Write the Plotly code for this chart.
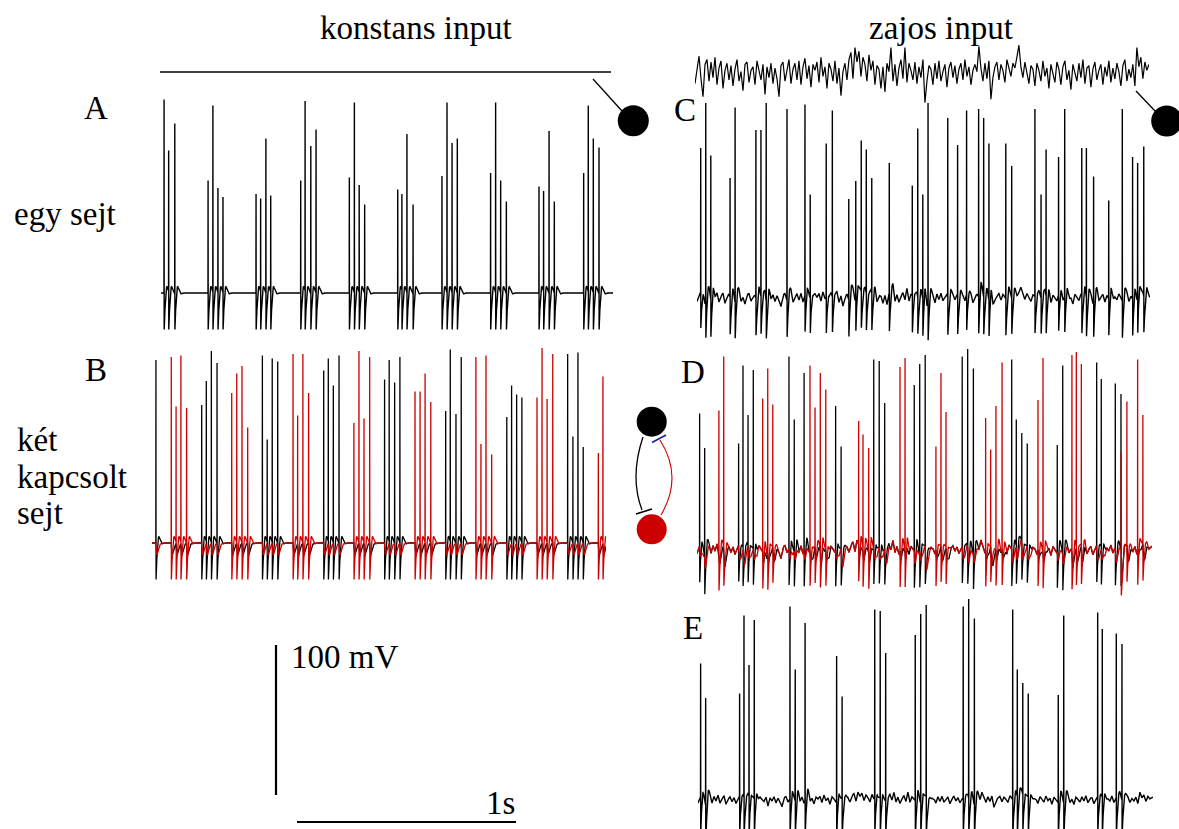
import numpy as np
import plotly.graph_objects as go

# ---------------- data ----------------
# spike times (ms from the start of each trace) and spike peak potentials (mV)
A_spike_ms = [14, 35, 63, 215, 237, 260, 283, 434, 455, 479, 501, 638, 658, 684, 708,
              860, 883, 905, 930, 1081, 1100, 1123, 1151, 1283, 1306, 1329, 1353,
              1505, 1528, 1551, 1577, 1726, 1747, 1772, 1796, 1930, 1951, 1974, 2000]
A_peak_mV = [69, 35, 53, 15, 65, 10, 4, 6, 3, 43, 5, 15, 68, 38, 49,
             17, 67, 12, -1, 9, 6, 46, -1, 18, 67, 40, 43,
             20, 67, 15, 1, 11, 8, 48, 1, 20, 65, 43, 37]

B_black_ms = [18, 227, 248, 271, 297, 504, 526, 549, 574, 784, 805, 828, 854,
              1062, 1083, 1108, 1132, 1341, 1362, 1388, 1412, 1620, 1642, 1665, 1689,
              1898, 1922, 1945, 1969]
B_black_mV = [62, 32, 48, 68, 60, 65, 9, 63, 61, 55, 63, 45, 65,
              49, 62, 47, 64, 28, 69, 26, 64, 24, 45, 39, 37,
              66, 11, 67, 4]
B_red_ms = [88, 110, 132, 158, 364, 387, 411, 437, 644, 665, 689, 715, 922, 945, 968, 994,
            1201, 1224, 1247, 1273, 1479, 1502, 1525, 1551, 1758, 1781, 1804, 1830, 2038, 2059]
B_red_mV = [64, 31, 65, 30, 40, 53, 58, 17, 66, 25, 66, 40, 20, 68, 23, 64,
            41, 41, 53, 34, 64, 6, 65, -1, 37, 70, 36, 66, 0, 51]

C_spike_ms = [17, 40, 63, 151, 174, 269, 292, 316, 411, 493, 517, 590, 618, 693, 725, 750,
              773, 798, 878, 983, 1008, 1031, 1055, 1145, 1190, 1231, 1286, 1309, 1333,
              1410, 1437, 1543, 1571, 1594, 1651, 1679, 1757, 1778, 1811, 1880, 1942,
              1989, 2012, 2040]
C_peak_mV = [40, 70, 35, 20, 67, 52, 52, 70, 66, 69, 9, 43, 65, 6, 18, 45,
             39, 20, 30, 15, 53, 9, 70, 60, 42, 65, 66, 60, 43,
             43, 28, 66, 9, 39, 34, 66, 40, 40, 21, 5, 66,
             34, 30, 41]

D_black_ms = [12, 35, 190, 210, 233, 257, 420, 444, 489, 633, 658, 807, 832, 857,
              992, 1017, 1042, 1211, 1236, 1262, 1437, 1458, 1483, 1508, 1645, 1670,
              1825, 1846, 1910, 1936]
D_black_mV = [31, 8, 11, 63, 30, 60, 69, 27, 58, 36, 9, 67, 66, 38,
              50, 64, 70, 69, 74, 61, 67, 27, 18, 11, 10, 63,
              65, 54, 51, 44]
D_red_ms = [100, 122, 300, 323, 346, 516, 539, 563, 588, 738, 758, 784, 927, 950,
            1091, 1114, 1137, 1318, 1341, 1365, 1393, 1557, 1580, 1712, 1732, 1755,
            1937, 1963, 2012, 2036]
D_red_mV = [33, 69, 41, 61, 37, 63, 35, 58, 47, 26, 17, 8, 62, 68,
            9, 58, 32, 28, 7, 36, 65, 40, 68, 70, 72, 64,
            5, 39, 67, 30]

# panel E: the black cell of D alone (same spike train)
E_spike_ms = list(D_black_ms)
E_peak_mV = list(D_black_mV)

# noisy input current (arbitrary units), one sample every NOISE_DT_MS
NOISE_DT_MS = 9.13
noise_input = [-8, 6, 15, -4, -19, 8, 12, -6, 10, -3,
               14, -9, 5, 11, -12, 3, 9, -5, 7, -10,
               4, 12, -6, 2, -14, 8, 10, -7, 3, 6,
               -9, 11, 2, -5, 8, -17, 6, -3, 9, -8,
               5, -4, -19, 7, 10, -6, 3, 12, -8, 4,
               9, -5, 11, -9, 6, 13, -4, 7, -11, 8,
               3, 10, -7, 14, -2, 6, -12, 9, 4, -6,
               11, -8, 5, -18, 2, 9, -5, 12, 18, -4,
               22, 10, 19, -2, 14, 8, -6, 16, 3, 11,
               -9, 7, 4, -12, 6, -15, 9, 2, 22, -6,
               8, -10, 5, 12, -4, 22, -7, 9, 3, -5,
               10, -8, 6, -3, 12, -24, -6, 7, 4, -9,
               9, -4, 11, -6, 2, 8, -11, 5, 10, -3,
               7, -8, 4, 9, -5, 12, -2, 6, -9, 3,
               8, 2, 23, 5, -6, 9, -4, 11, -21, -3,
               6, 10, -5, 8, 3, -7, 12, 4, -2, 9,
               5, 14, 24, 6, -3, 10, 2, -8, 7, 4,
               -10, 9, 3, -6, 11, -2, 5, -12, 8, 1,
               -7, 10, 4, -9, 6, 11, -5, 3, -13, 8,
               2, -6, 9, -3, 12, -8, 5, 7, -11, 4,
               10, -5, 3, 8, -9, 6, -2, 11, -7, 5,
               -4, 9, 2, -10, 7, 12, -6, 4, -3, 8,
               -10, 22, 6, 14, -4, 10, 3, 8]
const_input = 0.0

# trace durations (ms)
T_A, T_B, T_C, T_D, T_E = 2064, 2073, 2068, 2078, 2078

# scale bars
SCALE_MV = 100
SCALE_MS = 1000

# cell model parameters (shape of the drawn waveforms)
V_REST = -60.0
AHP_DEPTH = -26.0
AHP_TAU = 8.0
AHP_PERIOD = 32.0
IPSP_AMP = -8.0
IPSP_TAU = 4.0
NOISE_GAIN = 0.3
DT = 0.5

BLACK = "#000000"
RED = "#cc0000"
BLUE = "#1c1c9c"
FONT = "Liberation Serif"
FONT_SIZE = 33

# ---------------- page geometry ----------------
W, H = 1179, 829
PX_PER_MS = 0.219
PX_PER_MV = 1.5

noise_t = np.arange(len(noise_input)) * NOISE_DT_MS
noise_arr = np.asarray(noise_input, float)


def noisy_sub(t):
    return V_REST + NOISE_GAIN * np.interp(t, noise_t, noise_arr)


def membrane(T, st, sp, sub=None, partner=None):
    t = np.arange(0.0, T + DT / 2, DT)
    v = np.full(t.shape, V_REST) if sub is None else sub(t)
    st = np.asarray(st, float)
    sp = np.asarray(sp, float)
    k = np.searchsorted(st, t + 1e-9, side="right") - 1
    s = t - st[np.clip(k, 0, None)]
    ahp = np.where(k >= 0,
                   AHP_DEPTH * np.exp(-s / AHP_TAU) * np.cos(2 * np.pi * s / AHP_PERIOD),
                   0.0)
    v = v + ahp
    if partner is not None:
        for ts in partner:
            d = t - ts
            m = d > 0
            v[m] += IPSP_AMP * (d[m] / IPSP_TAU) * np.exp(1 - d[m] / IPSP_TAU)
    idx = np.round(st / DT).astype(int)
    v[idx] = sp
    return t, v


fig = go.Figure()
layout_axes = {}


def make_axis(n, x0_px, t_end, y_top, y_bot, y_ref_px, v_ref, px_per_unit=PX_PER_MV,
              x_lo_px=None, x_hi_px=None):
    lo = x0_px if x_lo_px is None else x_lo_px
    hi = x0_px + t_end * PX_PER_MS if x_hi_px is None else x_hi_px
    xr = [(lo - x0_px) / PX_PER_MS, (hi - x0_px) / PX_PER_MS]
    yr = [v_ref + (y_ref_px - y_bot) / px_per_unit, v_ref + (y_ref_px - y_top) / px_per_unit]
    sx = "" if n == 1 else str(n)
    layout_axes["xaxis" + sx] = dict(domain=[lo / W, hi / W], range=xr, visible=False,
                                     anchor="y" + sx, fixedrange=True)
    layout_axes["yaxis" + sx] = dict(domain=[1 - y_bot / H, 1 - y_top / H], range=yr,
                                     visible=False, anchor="x" + sx, fixedrange=True)
    return "x" + sx, "y" + sx


def add_line(ax, x, y, color=BLACK, width=1.4):
    fig.add_trace(go.Scatter(x=x, y=y, mode="lines", xaxis=ax[0], yaxis=ax[1],
                             line=dict(color=color, width=width), hoverinfo="skip",
                             showlegend=False))


# panel A: one cell, constant input
axA = make_axis(1, 161, T_A, 88, 345, 293, V_REST)
tA, vA = membrane(T_A, A_spike_ms, A_peak_mV)
add_line(axA, tA, vA)

# panel B: two coupled cells, constant input
axB = make_axis(2, 152, T_B, 338, 592, 543, V_REST)
tB, vBk = membrane(T_B, B_black_ms, B_black_mV, partner=B_red_ms)
_, vBr = membrane(T_B, B_red_ms, B_red_mV, partner=B_black_ms)
add_line(axB, tB, vBk, BLACK, 1.3)
add_line(axB, tB, vBr, RED, 1.3)

# panel C: one cell, noisy input
axC = make_axis(3, 697, T_C, 90, 345, 298, V_REST)
tC, vC = membrane(T_C, C_spike_ms, C_peak_mV, sub=noisy_sub)
add_line(axC, tC, vC)

# panel D: two coupled cells, noisy input
axD = make_axis(4, 697, T_D, 338, 598, 550, V_REST)
tD, vDk = membrane(T_D, D_black_ms, D_black_mV, sub=noisy_sub, partner=D_red_ms)
_, vDr = membrane(T_D, D_red_ms, D_red_mV, sub=noisy_sub, partner=D_black_ms)
add_line(axD, tD, vDk, BLACK, 1.3)
add_line(axD, tD, vDr, RED, 1.3)

# panel E
axE = make_axis(5, 698, T_E, 592, 829, 800, V_REST)
tE, vE = membrane(T_E, E_spike_ms, E_peak_mV, sub=lambda t: V_REST + 0.8 * (noisy_sub(t) - V_REST))
add_line(axE, tE, vE)

# input traces
axI = make_axis(6, 160, 2060, 37, 107, 72, 0.0, px_per_unit=1.0)
add_line(axI, [0, 2060], [const_input, const_input], BLACK, 1.3)

axN = make_axis(7, 695, noise_t[-1], 38, 112, 74, 0.0, px_per_unit=1.2)
add_line(axN, noise_t, noise_arr, BLACK, 1.2)

# scale bars
axS = make_axis(8, 276, SCALE_MS, 630, 829, 795, 0.0, x_lo_px=266, x_hi_px=530)
add_line(axS, [0, 0], [0, SCALE_MV], BLACK, 2.2)
bar_t0 = 96
add_line(axS, [bar_t0, bar_t0 + SCALE_MS], [-18, -18], BLACK, 2.2)

# schematic overlay axis (page pixels)
layout_axes["xaxis9"] = dict(domain=[0, 1], range=[0, W], visible=False, anchor="y9", fixedrange=True)
layout_axes["yaxis9"] = dict(domain=[0, 1], range=[H, 0], visible=False, anchor="x9", fixedrange=True)
fig.add_trace(go.Scatter(x=[None], y=[None], xaxis="x9", yaxis="y9", showlegend=False,
                         hoverinfo="skip"))

cells = [(633.3, 120.7, 15.5, BLACK), (1166.7, 121.0, 15.5, BLACK),
         (651.7, 421.7, 15.0, BLACK), (651.7, 529.3, 15.0, RED)]
connectors = [(593, 79, 622, 111), (1136, 91, 1156, 112)]
shapes = []
for cx, cy, r, c in cells:
    shapes.append(dict(type="circle", xref="x9", yref="y9", x0=cx - r, x1=cx + r,
                       y0=cy - r, y1=cy + r, fillcolor=c, line=dict(color=c, width=0)))
for x0, y0, x1, y1 in connectors:
    shapes.append(dict(type="line", xref="x9", yref="y9", x0=x0, y0=y0, x1=x1, y1=y1,
                       line=dict(color=BLACK, width=1.3)))
shapes.append(dict(type="path", xref="x9", yref="y9", path="M 643 437 Q 629.5 477 642 510",
                   line=dict(color=BLACK, width=1.3)))
shapes.append(dict(type="line", xref="x9", yref="y9", x0=636, y0=514, x1=652, y1=509,
                   line=dict(color=BLACK, width=1.6)))
shapes.append(dict(type="path", xref="x9", yref="y9", path="M 661 515 Q 683.5 477 660 440",
                   line=dict(color=RED, width=1.1)))
shapes.append(dict(type="line", xref="x9", yref="y9", x0=652, y0=442.5, x1=666, y1=435,
                   line=dict(color=BLUE, width=1.6)))

# texts
texts = [("konstans input", 416, 28, "center"),
         ("zajos input", 941, 28, "center"),
         ("A", 96, 108, "center"),
         ("B", 96, 370, "center"),
         ("C", 685, 110, "center"),
         ("D", 693, 372, "center"),
         ("E", 693, 628, "center"),
         ("egy sejt", 12, 214, "left"),
         ("két", 15, 440, "left"),
         ("kapcsolt", 15, 477, "left"),
         ("sejt", 15, 513, "left"),
         ("100 mV", 289, 657, "left"),
         ("1s", 517, 803, "right")]
annotations = []
for txt, x, y, anc in texts:
    annotations.append(dict(text=txt, x=x / W, y=1 - y / H, xref="paper", yref="paper",
                            xanchor=anc, yanchor="middle", showarrow=False,
                            font=dict(family=FONT, size=FONT_SIZE, color=BLACK)))

fig.update_layout(width=W, height=H, margin=dict(l=0, r=0, t=0, b=0),
                  paper_bgcolor="white", plot_bgcolor="rgba(0,0,0,0)",
                  showlegend=False, shapes=shapes, annotations=annotations,
                  **layout_axes)

fig.write_html("out.html", config={"displayModeBar": False},
               post_script="document.body.style.margin='0';document.body.style.overflow='hidden';")
